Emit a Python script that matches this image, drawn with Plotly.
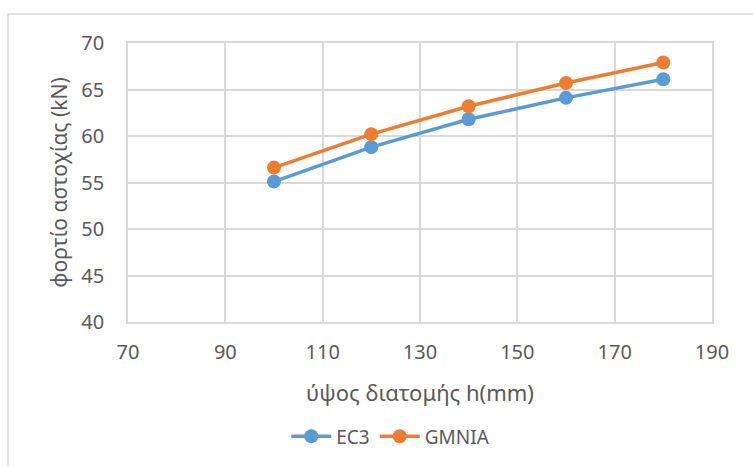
import plotly.graph_objects as go

# Section height h (mm) and failure load (kN) for each method
heights = [100, 120, 140, 160, 180]
ec3_load = [55.1, 58.8, 61.8, 64.1, 66.1]
gmnia_load = [56.6, 60.2, 63.2, 65.7, 67.9]

x_ticks = [70, 90, 110, 130, 150, 170, 190]
y_ticks = [40, 45, 50, 55, 60, 65, 70]

text_color = "#595959"
grid_color = "#D9D9D9"
font_family = "Noto Sans, DejaVu Sans, sans-serif"

fig = go.Figure()
fig.add_trace(go.Scatter(
    x=heights, y=ec3_load, name="EC3", mode="lines+markers",
    line=dict(color="#5B9BD5", width=3.5),
    marker=dict(color="#5B9BD5", size=14),
))
fig.add_trace(go.Scatter(
    x=heights, y=gmnia_load, name="GMNIA", mode="lines+markers",
    line=dict(color="#ED7D31", width=3.5),
    marker=dict(color="#ED7D31", size=14),
))

fig.update_layout(
    width=753, height=467,
    margin=dict(l=128, r=41, t=43, b=145),
    paper_bgcolor="white", plot_bgcolor="white",
    font=dict(family=font_family, color=text_color, size=20),
    showlegend=True,
    legend=dict(orientation="h", x=0.45, xanchor="center", y=-0.41, yanchor="middle",
                font=dict(size=19, color=text_color), itemwidth=40),
    xaxis=dict(
        range=[70, 190], tickvals=x_ticks, showgrid=True, gridcolor=grid_color, gridwidth=1.5,
        showline=True, linecolor=grid_color, linewidth=1.5, mirror=True, zeroline=False,
        ticks="", ticklabelstandoff=11, tickfont=dict(size=20, color=text_color),
        title=dict(text="ύψος διατομής h(mm)", font=dict(size=22, color=text_color), standoff=22),
    ),
    yaxis=dict(
        range=[40, 70], tickvals=y_ticks, showgrid=True, gridcolor=grid_color, gridwidth=1.5,
        showline=True, linecolor=grid_color, linewidth=1.5, mirror=True, zeroline=False,
        ticks="", ticklabelstandoff=18, tickfont=dict(size=20, color=text_color),
        title=dict(text="φορτίο αστοχίας (kN)", font=dict(size=21, color=text_color), standoff=8),
    ),
    shapes=[dict(
        type="rect", xref="paper", yref="paper",
        x0=(8 - 128) / 584, x1=1 + (41 + 20) / 584,
        y0=-(145 + 20) / 279, y1=1 + (43 - 14) / 279,
        line=dict(color=grid_color, width=1.5), fillcolor="rgba(0,0,0,0)", layer="below",
    )],
)

fig.write_html("out.html")
